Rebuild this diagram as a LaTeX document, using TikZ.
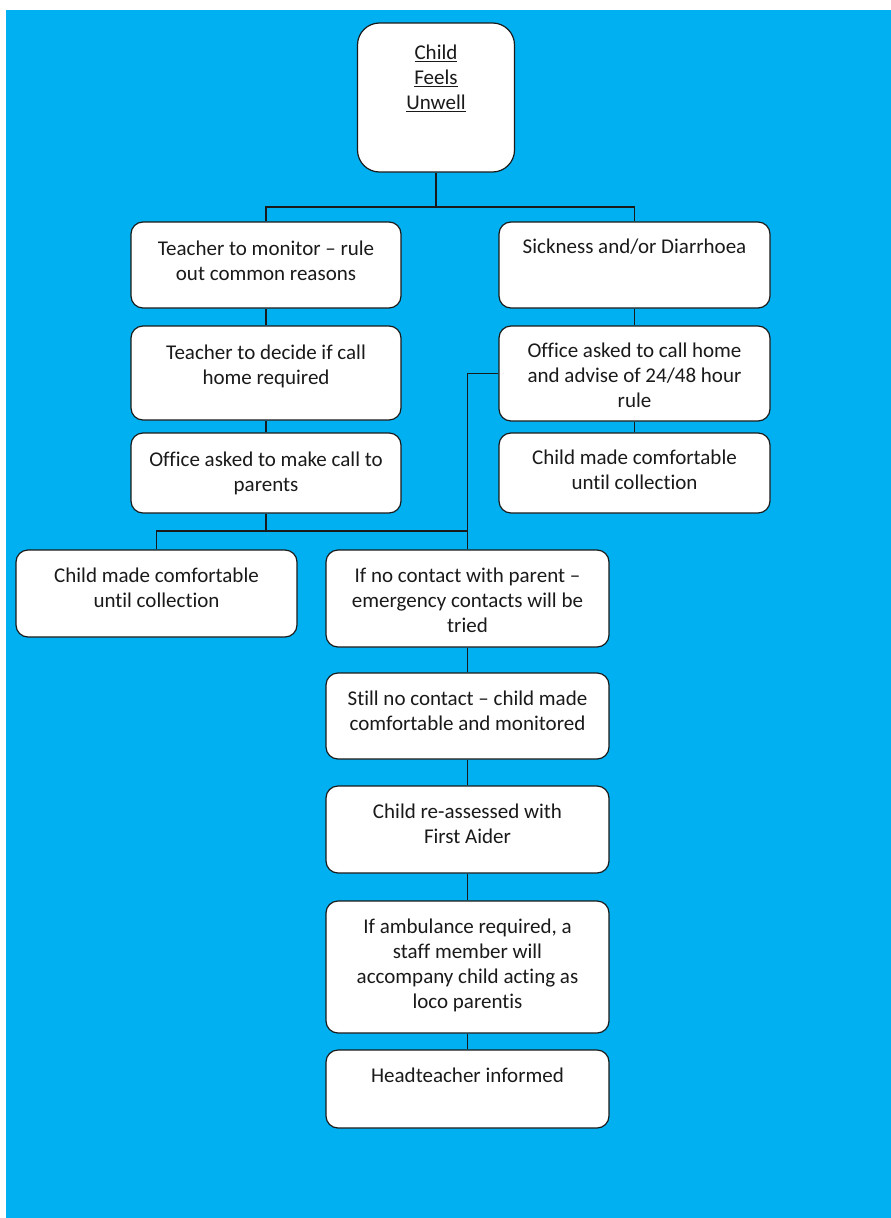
\documentclass[tikz,border=0pt]{standalone}
\usepackage{fontspec}
\setmainfont{Carlito}[Ligatures=NoCommon]
\definecolor{sheet}{HTML}{00B0F0}
\definecolor{ink}{HTML}{1A1A1A}
\tikzset{
  card/.style={
    draw=ink,fill=white,rounded corners=12pt,line width=1.2pt,inner sep=0pt
  },
  cardtext/.style={anchor=north,align=center,inner sep=0pt,text=ink,
    font=\fontsize{21}{25}\selectfont},
  connector/.style={draw=ink,line width=1.2pt}
}

\begin{document}
\begin{tikzpicture}[x=1pt,y=-1pt]

\useasboundingbox (0,0) rectangle (891,1218);
\fill[sheet] (6,10) rectangle (891,1218);

% top of the chart
\node[card,rounded corners=22pt,minimum width=157pt,minimum height=149pt]
  (unwell) at (436,97.5) {};
\node[cardtext] (unwell-t) at ([yshift=-22pt]unwell.north)
  {\underline{Child}\\\underline{Feels}\\\underline{Unwell}};

% left branch
\foreach \name/\y/\h/\txt in {
  monitor/265/86/{Teacher to monitor – rule\\out common reasons},
  decide/373/94/{Teacher to decide if call\\home required},
  parents/473/80/{Office asked to make call to\\parents}} {
  \node[card,minimum width=270pt,minimum height=\h pt] (\name) at (266,\y) {};
  \node[cardtext] (\name-t) at ([yshift=-19pt]\name.north) {\txt};
}

% right branch
\foreach \name/\y/\h/\txt in {
  sickness/265/86/{Sickness and/or Diarrhoea},
  callhome/373.5/95/{Office asked to call home\\and advise of 24/48 hour\\rule},
  comfortR/473/80/{Child made comfortable\\until collection}} {
  \node[card,minimum width=271pt,minimum height=\h pt] (\name) at (634.5,\y) {};
  \node[cardtext] (\name-t) at ([yshift=-17pt]\name.north) {\txt};
}

\node[card,minimum width=281pt,minimum height=87pt] (comfortL) at (156.5,593.5) {};
\node[cardtext] (comfortL-t) at ([yshift=-18pt]comfortL.north)
  {Child made comfortable\\until collection};

% no contact chain
\foreach \name/\y/\h/\txt in {
  nocontact/598.5/97/{If no contact with parent –\\emergency contacts will be\\tried},
  stillno/716/86/{Still no contact – child made\\comfortable and monitored},
  reassess/829.5/87/{Child re-assessed with\\First Aider},
  ambulance/967/132/{If ambulance required, a\\staff member will\\accompany child acting as\\loco parentis},
  headteacher/1089/78/{Headteacher informed}} {
  \node[card,minimum width=283pt,minimum height=\h pt] (\name) at (467.5,\y) {};
  \node[cardtext] (\name-t) at ([yshift=-18pt]\name.north) {\txt};
}

\coordinate (split) at (436,207);
\coordinate (merge) at (266,531);
\draw[connector] (unwell.south) -- (split);
\draw[connector] (monitor.north) |- (split) -| (sickness.north);
\draw[connector] (monitor) -- (decide);
\draw[connector] (decide) -- (parents);
\draw[connector] (sickness) -- (callhome);
\draw[connector] (callhome) -- (comfortR);
\draw[connector] (parents.south) -- (merge);
\draw[connector] (comfortL.north) |- (merge) -| (nocontact.north);
\draw[connector] (callhome.west) -| (nocontact.north);
\draw[connector] (nocontact) -- (stillno);
\draw[connector] (stillno) -- (reassess);
\draw[connector] (reassess) -- (ambulance);
\draw[connector] (ambulance) -- (headteacher);

\end{tikzpicture}
\end{document}
